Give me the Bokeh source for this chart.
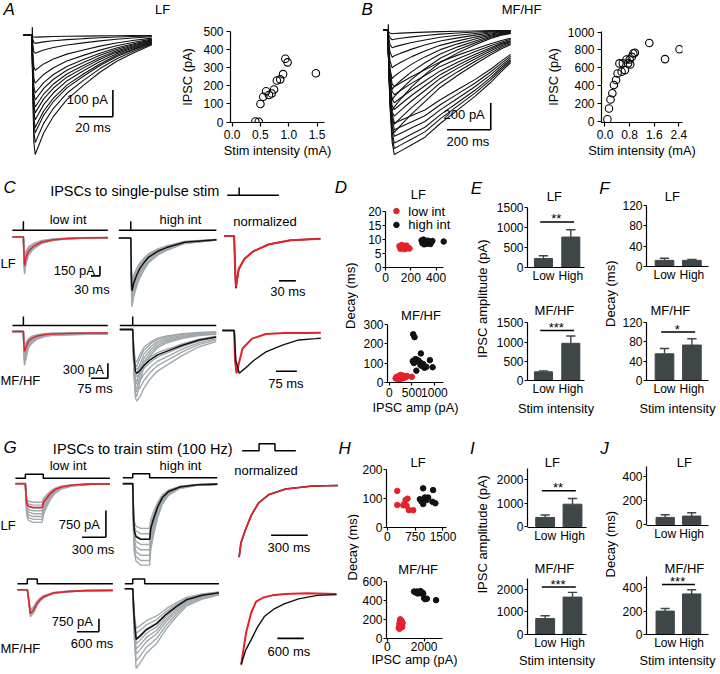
import numpy as np
from bokeh.plotting import figure
from bokeh.layouts import row, column
from bokeh.models import Range1d, FixedTicker, PrintfTickFormatter
from bokeh.core.properties import value
from bokeh.embed import file_html
from bokeh.resources import INLINE

FONT = "Liberation Sans"
RED = "#e4222a"
GRAY = "#a0a9ae"
BLK = "#111111"
BARC = "#3e4649"

# ====================== DATA ======================
# ---- A (LF): IPSC vs stimulus intensity ----
a_stim_ma = [0.41, 0.47, 0.50, 0.55, 0.60, 0.65, 0.70, 0.74, 0.79, 0.85, 0.90, 0.94, 0.98, 1.48]
a_ipsc_pa = [3, 2, 100, 140, 170, 150, 158, 180, 230, 236, 265, 350, 330, 270]
a_trace_amp_pa = [444, 400, 363, 344, 315, 289, 267, 241, 215, 178, 130, 67, 30, 7]
a_trace_t_ms = [0, 5.0, 5.6, 6.2, 7.0, 12, 17.8, 25.7, 35.5, 45.3, 55, 64.7, 76]
a_trace_norm = [0, 0, -0.5, -0.9, -1.0, -0.82, -0.68, -0.54, -0.42, -0.31, -0.22, -0.15, -0.08]
a_scale = (20, 100)          # ms, pA

# ---- B (MF/HF) ----
b_stim_ma = [0.08, 0.13, 0.18, 0.24, 0.29, 0.36, 0.41, 0.47, 0.54, 0.58, 0.65, 0.70,
             0.75, 0.80, 0.82, 0.87, 0.92, 0.97, 1.44, 1.95, 2.42]
b_ipsc_pa = [25, 145, 245, 315, 408, 463, 537, 649, 556, 649, 574, 693,
             649, 693, 638, 722, 760, 768, 878, 697, 808]
b_trace_t_ms = [0, 20, 23, 30, 40, 50, 80, 130, 190, 260, 340, 420, 490, 540, 582]
b_trace_amp_slow_pa = [926, 880, 840, 790, 740, 690]
b_trace_slow = [0, 0, -0.2, -0.6, -0.9, -1, -0.97, -0.92, -0.86, -0.75, -0.64, -0.53, -0.42, -0.33, -0.26]
b_trace_amp_med_pa = [760, 700, 640, 590, 540, 480, 420]
b_trace_med = [0, 0, -0.25, -0.7, -0.95, -1, -0.93, -0.82, -0.7, -0.56, -0.44, -0.33, -0.24, -0.18, -0.14]
b_trace_amp_fast_pa = [600, 520, 440, 360, 280, 200, 130, 70, 25]
b_trace_fast = [0, 0, -0.3, -0.8, -1, -0.95, -0.85, -0.7, -0.55, -0.4, -0.28, -0.18, -0.1, -0.06, -0.04]
b_scale = (200, 200)

# ---- C: single-pulse IPSCs (times relative to stimulus) ----
c_lf_stim_ms = (36.7, 40.0)
c_lf_lo_t = [0, 2, 4, 9, 18, 34, 62, 100, 150, 200, 283]
c_lf_lo_v = [0, -0.6, -1, -0.7, -0.48, -0.32, -0.17, -0.09, -0.05, -0.03, -0.02]
c_lf_hi_t = [0, 2, 4, 10, 20, 30, 45, 60, 90, 120, 180, 287]
c_lf_hi_v = [0, -0.7, -1, -0.85, -0.7, -0.58, -0.46, -0.36, -0.25, -0.18, -0.08, -0.03]
c_lf_lo_mean_pa = 435
c_lf_lo_gray_pa = [300, 340, 380, 420, 460, 500, 540, 555]
c_lf_hi_mean_pa = 795
c_lf_hi_gray_pa = [650, 700, 760, 820, 880, 940, 1000, 1035]
c_lf_scale = (30, 150)
c_lfn_stim_ms = 17.6
c_lfn_t = [0, 1.5, 3, 8, 18, 34, 62, 100, 153]
c_lfn_low = [0, -0.6, -1, -0.65, -0.45, -0.3, -0.16, -0.08, -0.05]
c_lfn_high = [0, -0.6, -1.03, -0.66, -0.45, -0.3, -0.16, -0.08, -0.05]

c_mf_stim_ms = (48.5, 57.0)
c_mf_lo_t = [0, 2, 5, 10, 22, 35, 62, 90, 120, 200, 300, 374]
c_mf_lo_v = [0, -0.6, -1, -0.85, -0.5, -0.36, -0.22, -0.16, -0.12, -0.1, -0.08, -0.08]
c_mf_hi_t = [0, 5, 12, 18, 30, 50, 80, 110, 150, 220, 295, 370]
c_mf_hi_v = [0, -0.6, -0.95, -1, -0.95, -0.82, -0.68, -0.58, -0.5, -0.36, -0.24, -0.17]
c_mf_hi_fast_v = [0, -0.6, -0.95, -1, -0.8, -0.55, -0.38, -0.27, -0.2, -0.13, -0.09, -0.07]
c_mf_lo_mean_pa = 400
c_mf_lo_gray_pa = [280, 340, 400, 460, 520, 580, 640, 680]
c_mf_hi_mean_pa = 880
c_mf_hi_gray_pa = [800, 950, 1100, 1250, 1440]
c_mf_hi_gray_fast_pa = [650, 750, 900, 1050, 1200, 1350]
c_mf_scale = (75, 300)
c_mfn_stim_ms = 42.9
c_mfn_low_t = [0, 3, 8, 30, 64, 114, 180, 250, 311]
c_mfn_low_v = [0, -0.7, -1, -0.42, -0.19, -0.08, -0.06, -0.06, -0.05]
c_mfn_high_t = [0, 6, 18, 40, 70, 114, 173, 232, 292, 311]
c_mfn_high_v = [0, -0.7, -1, -0.88, -0.7, -0.5, -0.34, -0.22, -0.19, -0.18]

# ---- D: decay vs amplitude (single pulse) ----
d_lf_low_amp = [110, 118, 125, 130, 138, 145, 150, 158, 165, 172, 180, 190]
d_lf_low_decay = [7.6, 6.6, 7.2, 8.0, 6.9, 7.4, 6.5, 7.1, 7.8, 6.8, 7.0, 6.7]
d_lf_high_amp = [285, 292, 300, 305, 312, 320, 328, 335, 345, 355, 370, 460]
d_lf_high_decay = [9.6, 8.6, 9.9, 8.2, 9.3, 9.0, 8.4, 9.5, 8.8, 8.3, 9.4, 9.2]
d_mf_low_amp = [140, 160, 180, 200, 215, 230, 245, 260, 275, 290, 305, 320, 335, 350, 370, 390, 210, 250, 300, 500]
d_mf_low_decay = [20, 28, 18, 25, 32, 22, 30, 18, 26, 35, 21, 28, 24, 30, 27, 33, 15, 38, 31, 28]
d_mf_high_amp = [530, 560, 520, 545, 575, 600, 610, 650, 700, 700, 720, 750, 780, 820, 900, 960, 560, 690]
d_mf_high_decay = [250, 235, 110, 100, 120, 60, 118, 112, 150, 100, 85, 95, 75, 80, 115, 78, 105, 90]

# ---- E/F: single-pulse summary (mean, sem) ----
groups = ["Low", "High"]
e_lf_mean, e_lf_sem = [221, 755], [70, 180]
e_mf_mean, e_mf_sem = [220, 967], [25, 193]
f_lf_mean, f_lf_sem = [12, 12], [4, 2]
f_mf_mean, f_mf_sem = [55, 73], [11, 13]
e_lf_sig, e_mf_sig, f_mf_sig = (1130, "**"), (1305, "***"), (100, "*")

# ---- G: train IPSCs (times relative to train onset) ----
g_lf_stim_ms, g_lf_train_ms = (125, 125), (225, 212)
g_lf_t = [0, 10, 20, 40, 100, 212, 227, 262, 312, 372, 452, 592, 812, 1062]
g_lf_v = [0, -0.6, -0.85, -0.95, -1, -1, -0.8, -0.63, -0.42, -0.25, -0.14, -0.06, -0.02, -0.01]
g_lf_lo_mean_pa = 667
g_lf_lo_gray_pa = [520, 600, 680, 760, 840, 920, 1000, 1083]
g_lf_hi_mean_pa = 1555
g_lf_hi_gray_pa = [1250, 1400, 1550, 1700, 1850, 2000, 2150, 2278]
g_lf_scale = (300, 750)
g_lfn_scale = 300

g_mf_stim_ms, g_mf_train_ms = (272, 218), (272, 327)
g_mf_lo_t = [0, 35, 82, 172, 264, 350, 444, 717, 1081, 1600, 2343]
g_mf_lo_v = [0, -0.4, -1, -0.86, -0.58, -0.42, -0.3, -0.14, -0.08, -0.04, -0.03]
g_mf_hi_t = [0, 40, 92, 191, 373, 654, 926, 1200, 1471, 1900, 2371]
g_mf_hi_v = [0, -0.6, -1, -0.94, -0.81, -0.69, -0.5, -0.35, -0.22, -0.13, -0.08]
g_mf_lo_mean_pa = 1387
g_mf_lo_gray_pa = [1150, 1250, 1350, 1450, 1578]
g_mf_hi_mean_pa = 2948
g_mf_hi_gray_pa = [2300, 2600, 2900, 3200, 3500, 3800, 4200, 4624]
g_mf_scale = (600, 750)
g_mfn_low_t = [0, 112, 225, 338, 500, 707, 1000, 1500, 2160]
g_mfn_low_v = [-1, -0.55, -0.27, -0.11, -0.05, -0.02, 0.0, 0.01, 0.0]
g_mfn_high_t = [0, 100, 225, 370, 525, 750, 975, 1300, 1725, 2160]
g_mfn_high_v = [-1, -0.8, -0.65, -0.47, -0.32, -0.21, -0.14, -0.07, -0.02, -0.01]
g_mfn_scale = 600

# ---- H: decay vs amplitude (train) ----
h_lf_low_amp = [268, 268, 491, 545, 456, 518, 581, 697, 429]
h_lf_low_decay = [127, 78, 95, 100, 81, 75, 60, 60, 77]
h_lf_high_amp = [965, 876, 965, 1010, 1055, 1100, 1233, 1215, 1295, 920]
h_lf_high_decay = [136, 98, 81, 104, 95, 104, 130, 89, 84, 90]
h_mf_low_amp = [620, 650, 680, 700, 720, 750, 780, 800, 830, 660, 700, 740, 770, 690, 720, 810]
h_mf_low_decay = [110, 150, 180, 120, 165, 140, 175, 130, 160, 100, 200, 115, 185, 135, 155, 120]
h_mf_high_amp = [1450, 1550, 1600, 1650, 1700, 1750, 1800, 1850, 1900, 1950, 2000, 2050, 2150, 2650]
h_mf_high_decay = [490, 480, 490, 470, 485, 475, 495, 470, 480, 470, 420, 410, 415, 400]

# ---- I/J: train summary ----
i_lf_mean, i_lf_sem = [390, 950], [100, 240]
i_mf_mean, i_mf_sem = [705, 1660], [125, 210]
j_lf_mean, j_lf_sem = [61, 72], [22, 28]
j_mf_mean, j_mf_sem = [200, 347], [22, 36]
i_lf_sig, i_mf_sig, j_mf_sig = (1513, "**"), (2110, "***"), (428, "***")

# ====================== LAYOUT HELPERS ======================
FX, FY = 716 / 720, 670 / 674


def rx(v):
    return int(round(v * FX))


def ry(v):
    return int(round(v * FY))


class Panel:
    def __init__(self, box, frame=None, xmap=(0.0, 1.0), ymap=(0.0, 1.0), axes=False):
        x0, x1, y0, y1 = box
        fx0, fx1, fy0, fy1 = frame if frame else box
        self.sxa, self.kx = xmap
        self.sya, self.ky = ymap
        xs = (rx(fx0) / FX - self.sxa) / self.kx
        xe = (rx(fx1) / FX - self.sxa) / self.kx
        ys = (self.sya - ry(fy1) / FY) / self.ky
        ye = (self.sya - ry(fy0) / FY) / self.ky
        if axes:
            # keep the zero tick inside the range despite pixel rounding
            if 0 < xs < 0.04 * (xe - xs):
                xs = -1e-4 * (xe - xs)
            if 0 < ys < 0.04 * (ye - ys):
                ys = -1e-4 * (ye - ys)
        kw = {} if axes else dict(x_axis_type=None, y_axis_type=None)
        p = figure(width=rx(x1) - rx(x0), height=ry(y1) - ry(y0),
                   x_range=Range1d(xs, xe), y_range=Range1d(ys, ye),
                   output_backend="svg", toolbar_location=None, title=None,
                   min_border_left=rx(fx0) - rx(x0), min_border_right=rx(x1) - rx(fx1),
                   min_border_top=ry(fy0) - ry(y0), min_border_bottom=ry(y1) - ry(fy1), **kw)
        if "frame_align" in p.properties():
            p.frame_align = False
        p.outline_line_color = None
        p.background_fill_color = "white"
        p.border_fill_color = "white"
        if axes:
            p.xgrid.visible = False
            p.ygrid.visible = False
        self.p = p

    def X(self, sx):
        return (sx - self.sxa) / self.kx

    def Y(self, sy):
        return (self.sya - sy) / self.ky

    def text(self, sx, sy, s, size=13, align="center", angle=0.0, style="normal", baseline="middle"):
        self.p.text(x=[self.X(sx)], y=[self.Y(sy)], text=[s], text_font=value(FONT),
                    text_font_size=f"{size}px", text_align=align, text_baseline=baseline,
                    angle=angle, text_font_style=style, text_color="black")

    def sline(self, sxs, sys, width=1.5):
        self.p.line([self.X(v) for v in sxs], [self.Y(v) for v in sys], line_width=width, line_color="black")


def trace(P, t_stim, st, sv, amp, color, lw):
    xs = [0.0] + [t_stim + t for t in st]
    ys = [0.0] + [amp * v for v in sv]
    P.p.line(xs, ys, line_color=color, line_width=lw)


def stim(P, t_stim, t_end, sy_base, sy_top, train=None):
    yb, yt = P.Y(sy_base), P.Y(sy_top)
    if train is None:
        P.p.line([0, t_end], [yb, yb], line_color="black", line_width=1.5)
        P.p.line([t_stim, t_stim], [yb, yt], line_color="black", line_width=1.5)
    else:
        P.p.line([0, t_stim, t_stim, t_stim + train, t_stim + train, t_end],
                 [yb, yb, yt, yt, yb, yb], line_color="black", line_width=1.5)


def scalebar(P, sx, sy, dt=None, di=None):
    tc, ic = P.X(sx), P.Y(sy)
    if dt:
        P.p.line([tc - dt, tc], [ic, ic], line_color="black", line_width=1.6)
    if di:
        P.p.line([tc, tc], [ic, ic + di], line_color="black", line_width=1.6)


def axis_style(P, xticks, yticks, ybounds=None, xbounds=None, xfmt=None, xover=None, xlabel=None, ylabel=None,
               xtick_out=3, ytick_out=3, xstand=1, ystand=1, xlstand=0, ylstand=4, fs="12px"):
    p = P.p
    for ax in p.axis:
        ax.axis_line_color = "black"
        ax.axis_line_width = 1.2
        ax.major_tick_line_color = "black"
        ax.major_tick_line_width = 1.2
        ax.major_tick_in = 0
        ax.minor_tick_line_color = None
        ax.major_label_text_font = FONT
        ax.major_label_text_font_size = fs
        ax.major_label_text_color = "black"
        ax.axis_label_text_font = FONT
        ax.axis_label_text_font_size = "12.8px"
        ax.axis_label_text_font_style = "normal"
        ax.axis_label_text_color = "black"
    xa, ya = p.xaxis[0], p.yaxis[0]
    xa.ticker = FixedTicker(ticks=xticks)
    ya.ticker = FixedTicker(ticks=yticks)
    xa.major_tick_out = xtick_out
    ya.major_tick_out = ytick_out
    if xtick_out == 0:
        xa.major_tick_line_color = None
    xa.major_label_standoff = xstand
    ya.major_label_standoff = ystand
    if ybounds:
        ya.bounds = ybounds
    if xbounds:
        xa.bounds = xbounds
    if xfmt:
        xa.formatter = PrintfTickFormatter(format=xfmt)
    if xover:
        xa.major_label_overrides = xover
    if xlabel:
        xa.axis_label = xlabel
        xa.axis_label_standoff = xlstand
    if ylabel:
        ya.axis_label = ylabel
        ya.axis_label_standoff = ylstand


def bars(P, means, sems, bw, yticks, ybounds, sig=None):
    xs = list(range(len(means)))
    P.p.vbar(x=xs, top=means, width=bw, bottom=0, fill_color=BARC, line_color=BARC)
    tops = [m + s for m, s in zip(means, sems)]
    P.p.segment(x0=xs, y0=means, x1=xs, y1=tops, line_color=BARC, line_width=1.4)
    cw = 0.17
    P.p.segment(x0=[x - cw for x in xs], y0=tops, x1=[x + cw for x in xs], y1=tops,
                line_color=BARC, line_width=1.4)
    if sig:
        lvl, stars = sig
        P.p.line([-0.12, 1.12], [lvl, lvl], line_color="black", line_width=1.5)
        P.p.text(x=[0.47], y=[lvl + 3.0 / P.ky], text=[stars], text_font=value(FONT),
                 text_font_size="13px", text_align="center", text_baseline="alphabetic",
                 text_color="black")
    axis_style(P, [0, 1], yticks, ybounds=ybounds, xtick_out=0, xstand=1,
               xover={i: g for i, g in enumerate(groups)}, fs="12px")


def dots(P, xs, ys, color):
    P.p.scatter(xs, ys, marker="circle", size=5.5, fill_color=color, line_color=color)


# ====================== ROW 1 ======================
A_tr = Panel((0, 178, 0, 168), xmap=(23, 1.7), ymap=(35, 0.27))
for amp in a_trace_amp_pa:
    A_tr.p.line(a_trace_t_ms, [amp * v for v in a_trace_norm], line_color=BLK, line_width=1.1)
A_tr.sline([32, 32], [27, 44], width=1.2)
A_tr.text(3, 9, "A", size=17, align="left", style="italic")
A_tr.text(163, 9, "LF")
scalebar(A_tr, 113, 117, dt=a_scale[0], di=a_scale[1])
A_tr.text(108, 100, f"{a_scale[1]} pA", align="right")
A_tr.text(93, 128, f"{a_scale[0]} ms")

A_sc = Panel((178, 360, 0, 168), frame=(228, 326, 31, 123), xmap=(230, 58.7), ymap=(122.3, 0.182), axes=True)
A_sc.p.scatter(a_stim_ma, a_ipsc_pa, marker="circle", size=7.5, fill_color=None, line_color="black", line_width=1.1)
axis_style(A_sc, [0, 0.5, 1.0, 1.5], [0, 100, 200, 300, 400, 500], xfmt="%.1f",
           xlabel="Stim intensity (mA)", ylabel="IPSC (pA)", xtick_out=4, ytick_out=4,
           xstand=3, ystand=3, xlstand=1, ylstand=5)

B_tr = Panel((360, 545, 0, 168), xmap=(385, 0.22), ymap=(30, 0.135))
for amps, shape in ((b_trace_amp_fast_pa, b_trace_fast), (b_trace_amp_med_pa, b_trace_med),
                    (b_trace_amp_slow_pa, b_trace_slow)):
    for amp in amps:
        B_tr.p.line(b_trace_t_ms, [amp * v for v in shape], line_color=BLK, line_width=1.1)
B_tr.sline([390, 390], [24, 40], width=1.2)
B_tr.text(363, 9, "B", size=17, align="left", style="italic")
B_tr.text(524, 9, "MF/HF")
scalebar(B_tr, 493, 130, dt=b_scale[0], di=b_scale[1])
B_tr.text(487, 115, f"{b_scale[1]} pA", align="right")
B_tr.text(470, 142, f"{b_scale[0]} ms")

B_sc = Panel((545, 720, 0, 168), frame=(600, 686, 31, 123), xmap=(604, 32.5), ymap=(121.7, 0.09), axes=True)
B_sc.p.scatter(b_stim_ma, b_ipsc_pa, marker="circle", size=7.5, fill_color=None, line_color="black", line_width=1.1)
axis_style(B_sc, [0, 0.8, 1.6, 2.4], [0, 200, 400, 600, 800, 1000], xfmt="%.1f",
           xlabel="Stim intensity (mA)", ylabel="IPSC (pA)", xtick_out=4, ytick_out=4,
           xstand=3, ystand=3, xlstand=1, ylstand=4)

row1 = row(A_tr.p, A_sc.p, B_tr.p, B_sc.p)

# ====================== ROW 2 ======================
Ct = Panel((0, 332, 168, 210))
Ct.text(3, 188, "C", size=17, align="left", style="italic")
Ct.text(135, 192, "IPSCs to single-pulse stim", size=14.5)
Ct.sline([228, 280], [196, 196])
Ct.sline([240, 240], [196, 188])

C1 = Panel((0, 116, 210, 310), xmap=(12, 0.3), ymap=(238, 0.0667))
for a in c_lf_lo_gray_pa:
    trace(C1, c_lf_stim_ms[0], c_lf_lo_t, c_lf_lo_v, a, GRAY, 1.4)
trace(C1, c_lf_stim_ms[0], c_lf_lo_t, c_lf_lo_v, c_lf_lo_mean_pa, RED, 1.5)
stim(C1, c_lf_stim_ms[0], c_lf_stim_ms[0] + c_lf_lo_t[-1], 231, 222)
C1.text(68, 220, "low int")
C1.text(0, 265, "LF", align="left")
scalebar(C1, 100, 277, dt=c_lf_scale[0], di=c_lf_scale[1])
C1.text(95, 272, f"{c_lf_scale[1]} pA", align="right")
C1.text(92, 291, f"{c_lf_scale[0]} ms")

C2 = Panel((116, 220, 210, 310), xmap=(119, 0.3), ymap=(239, 0.0667))
for a in c_lf_hi_gray_pa:
    trace(C2, c_lf_stim_ms[1], c_lf_hi_t, c_lf_hi_v, a, GRAY, 1.4)
trace(C2, c_lf_stim_ms[1], c_lf_hi_t, c_lf_hi_v, c_lf_hi_mean_pa, BLK, 1.5)
stim(C2, c_lf_stim_ms[1], c_lf_stim_ms[1] + c_lf_hi_t[-1], 231, 222)
C2.text(181, 220, "high int")

C3 = Panel((220, 332, 210, 310), xmap=(225, 0.567), ymap=(237, 51))
trace(C3, c_lfn_stim_ms, c_lfn_t, c_lfn_high, 1.0, BLK, 1.5)
trace(C3, c_lfn_stim_ms, c_lfn_t, c_lfn_low, 1.0, RED, 2.0)
C3.text(266, 222, "normalized")
scalebar(C3, 297, 282, dt=c_lf_scale[0])
C3.text(289, 293, f"{c_lf_scale[0]} ms")

C4 = Panel((0, 116, 310, 420), xmap=(12, 0.227), ymap=(333, 0.05))
for a in c_mf_lo_gray_pa:
    trace(C4, c_mf_stim_ms[0], c_mf_lo_t, c_mf_lo_v, a, GRAY, 1.4)
trace(C4, c_mf_stim_ms[0], c_mf_lo_t, c_mf_lo_v, c_mf_lo_mean_pa, RED, 1.5)
stim(C4, c_mf_stim_ms[0], c_mf_stim_ms[0] + c_mf_lo_t[-1], 327, 318)
C4.text(0, 382, "MF/HF", align="left")
scalebar(C4, 108, 380, dt=c_mf_scale[0], di=c_mf_scale[1])
C4.text(104, 371, f"{c_mf_scale[1]} pA", align="right")
C4.text(95, 390, f"{c_mf_scale[0]} ms")

C5 = Panel((116, 220, 310, 420), xmap=(120, 0.227), ymap=(331, 0.05))
for a in c_mf_hi_gray_fast_pa:
    trace(C5, c_mf_stim_ms[1], c_mf_hi_t, c_mf_hi_fast_v, a, GRAY, 1.4)
for a in c_mf_hi_gray_pa:
    trace(C5, c_mf_stim_ms[1], c_mf_hi_t, c_mf_hi_v, a, GRAY, 1.4)
trace(C5, c_mf_stim_ms[1], c_mf_hi_t, c_mf_hi_v, c_mf_hi_mean_pa, BLK, 1.5)
stim(C5, c_mf_stim_ms[1], c_mf_stim_ms[1] + c_mf_hi_t[-1], 327, 318)

C6 = Panel((220, 332, 310, 420), xmap=(223, 0.28), ymap=(332, 43))
trace(C6, c_mfn_stim_ms, c_mfn_low_t, c_mfn_low_v, 1.0, RED, 2.0)
trace(C6, c_mfn_stim_ms, c_mfn_high_t, c_mfn_high_v, 1.0, BLK, 1.4)
scalebar(C6, 298, 373, dt=c_mf_scale[0])
C6.text(287, 385, f"{c_mf_scale[0]} ms")

Cblock = column(Ct.p, row(C1.p, C2.p, C3.p), row(C4.p, C5.p, C6.p))

Dl = Panel((332, 362, 168, 420))
Dl.text(336, 188, "D", size=17, align="left", style="italic")
Dl.text(352, 297, "Decay (ms)", angle=np.pi / 2)

D1 = Panel((362, 468, 168, 296), frame=(387, 468, 168, 269), xmap=(387, 0.1275), ymap=(269, 2.85), axes=True)
dots(D1, d_lf_low_amp, d_lf_low_decay, RED)
dots(D1, d_lf_high_amp, d_lf_high_decay, BLK)
D1.text(420, 195, "LF")
D1.p.scatter([D1.X(398)], [D1.Y(212)], marker="circle", size=5.5, color=RED)
D1.p.scatter([D1.X(398)], [D1.Y(226)], marker="circle", size=5.5, color=BLK)
D1.text(410, 212, "low int", align="left")
D1.text(410, 226, "high int", align="left")
axis_style(D1, [0, 200, 400], [0, 5, 10, 15, 20], ybounds=(0, 20), xbounds=(D1.X(387), D1.X(445)), xstand=2)

D2 = Panel((362, 468, 296, 420), frame=(387, 445, 296, 384), xmap=(389, 0.047), ymap=(384, 0.193), axes=True)
dots(D2, d_mf_low_amp, d_mf_low_decay, RED)
dots(D2, d_mf_high_amp, d_mf_high_decay, BLK)
D2.text(422, 317, "MF/HF")
axis_style(D2, [0, 500, 1000], [0, 100, 200, 300], ybounds=(0, 300),
           xlabel="IPSC amp (pA)", xstand=2, xlstand=0)

El = Panel((468, 494, 168, 420))
El.text(473, 189, "E", size=17, align="left", style="italic")
El.text(485, 300, "IPSC amplitude (pA)", angle=np.pi / 2)

E1 = Panel((494, 598, 168, 296), frame=(530, 587, 168, 269), xmap=(546, 27.5), ymap=(269, 0.0407), axes=True)
bars(E1, e_lf_mean, e_lf_sem, 0.66, [0, 500, 1000, 1500], (0, 1500), e_lf_sig)
E1.text(557, 197, "LF")

E2 = Panel((494, 598, 296, 420), frame=(530, 587, 296, 384), xmap=(546, 27.5), ymap=(384, 0.0393), axes=True)
bars(E2, e_mf_mean, e_mf_sem, 0.66, [0, 500, 1000, 1500], (0, 1500), e_mf_sig)
E2.p.xaxis[0].axis_label = "Stim intensity"
E2.p.xaxis[0].axis_label_standoff = 2
E2.text(557, 312, "MF/HF")

Fl = Panel((598, 622, 168, 420))
Fl.text(602, 189, "F", size=17, align="left", style="italic")
Fl.text(613, 295, "Decay (ms)", angle=np.pi / 2)

F1 = Panel((622, 720, 168, 296), frame=(649, 712, 168, 268), xmap=(667, 28), ymap=(268, 0.517), axes=True)
bars(F1, f_lf_mean, f_lf_sem, 0.68, [0, 40, 80, 120], (0, 120))
F1.text(675, 197, "LF")

F2 = Panel((622, 720, 296, 420), frame=(649, 712, 296, 384), xmap=(667, 28), ymap=(384.3, 0.5), axes=True)
bars(F2, f_mf_mean, f_mf_sem, 0.68, [0, 40, 80, 120], (0, 120), f_mf_sig)
F2.p.xaxis[0].axis_label = "Stim intensity"
F2.p.xaxis[0].axis_label_standoff = 2
F2.text(673, 312, "MF/HF")

row2 = row(Cblock, Dl.p, column(D1.p, D2.p), El.p, column(E1.p, E2.p), Fl.p, column(F1.p, F2.p))

# ====================== ROW 3 ======================
Gt = Panel((0, 340, 420, 460))
Gt.text(3, 450, "G", size=17, align="left", style="italic")
Gt.text(143, 451, "IPSCs to train stim (100 Hz)", size=14.5)
Gt.sline([243, 260, 260, 276, 276, 297], [453, 453, 446, 446, 453, 453])

G1 = Panel((0, 116, 460, 570), xmap=(15, 0.08), ymap=(486, 0.036))
for a in g_lf_lo_gray_pa:
    trace(G1, g_lf_stim_ms[0], g_lf_t, g_lf_v, a, GRAY, 1.4)
trace(G1, g_lf_stim_ms[0], g_lf_t, g_lf_v, g_lf_lo_mean_pa, RED, 1.6)
stim(G1, g_lf_stim_ms[0], g_lf_stim_ms[0] + g_lf_t[-1], 480.7, 476.7, train=g_lf_train_ms[0])
G1.text(68, 468, "low int")
G1.text(0, 528, "LF", align="left")
scalebar(G1, 106, 540, dt=g_lf_scale[0], di=g_lf_scale[1])
G1.text(100, 527, f"{g_lf_scale[1]} pA", align="right")
G1.text(93, 552, f"{g_lf_scale[0]} ms")

G2 = Panel((116, 220, 460, 570), xmap=(123, 0.08), ymap=(486, 0.036))
for a in g_lf_hi_gray_pa:
    trace(G2, g_lf_stim_ms[1], g_lf_t, g_lf_v, a, GRAY, 1.4)
trace(G2, g_lf_stim_ms[1], g_lf_t, g_lf_v, g_lf_hi_mean_pa, BLK, 1.6)
stim(G2, g_lf_stim_ms[1], g_lf_stim_ms[1] + g_lf_t[-1], 480, 476, train=g_lf_train_ms[1])
G2.text(181, 468, "high int")

G3 = Panel((220, 340, 460, 570), xmap=(213.9, 0.123), ymap=(487, 73))
dec_t = [t for t in g_lf_t if t >= 212]
dec_v = [v for t, v in zip(g_lf_t, g_lf_v) if t >= 212]
G3.p.line(dec_t, dec_v, line_color=BLK, line_width=1.6)
G3.p.line(dec_t, dec_v, line_color=RED, line_width=1.6)
G3.text(267, 473, "normalized")
scalebar(G3, 309, 538, dt=g_lfn_scale)
G3.text(290, 550, f"{g_lfn_scale} ms")

G4 = Panel((0, 116, 570, 674), xmap=(17, 0.0367), ymap=(592.7, 0.0173))
for a in g_mf_lo_gray_pa:
    trace(G4, g_mf_stim_ms[0], g_mf_lo_t, g_mf_lo_v, a, GRAY, 1.4)
trace(G4, g_mf_stim_ms[0], g_mf_lo_t, g_mf_lo_v, g_mf_lo_mean_pa, RED, 1.6)
stim(G4, g_mf_stim_ms[0], g_mf_stim_ms[0] + g_mf_lo_t[-1], 586.7, 582, train=g_mf_train_ms[0])
G4.text(0, 652, "MF/HF", align="left")
scalebar(G4, 99, 635, dt=g_mf_scale[0], di=g_mf_scale[1])
G4.text(93, 625, f"{g_mf_scale[1]} pA", align="right")
G4.text(92, 647, f"{g_mf_scale[0]} ms")

G5 = Panel((116, 220, 570, 674), xmap=(125, 0.0367), ymap=(591.7, 0.0173))
for a in g_mf_hi_gray_pa:
    trace(G5, g_mf_stim_ms[1], g_mf_hi_t, g_mf_hi_v, a, GRAY, 1.4)
trace(G5, g_mf_stim_ms[1], g_mf_hi_t, g_mf_hi_v, g_mf_hi_mean_pa, BLK, 1.6)
stim(G5, g_mf_stim_ms[1], g_mf_stim_ms[1] + g_mf_hi_t[-1], 586.7, 582, train=g_mf_train_ms[1])

G6 = Panel((220, 340, 570, 674), xmap=(242, 0.0444), ymap=(597, 71))
G6.p.line(g_mfn_low_t, g_mfn_low_v, line_color=RED, line_width=2.0)
G6.p.line(g_mfn_high_t, g_mfn_high_v, line_color=BLK, line_width=1.4)
scalebar(G6, 305, 641.7, dt=g_mfn_scale)
G6.text(290, 655, f"{g_mfn_scale} ms")

Gblock = column(Gt.p, row(G1.p, G2.p, G3.p), row(G4.p, G5.p, G6.p))

Hl = Panel((340, 361, 420, 674))
Hl.text(340, 451, "H", size=17, align="left", style="italic")
Hl.text(354, 550, "Decay (ms)", angle=np.pi / 2)

H1 = Panel((361, 468, 420, 555), frame=(388, 448, 420, 530), xmap=(389, 0.0373), ymap=(530, 0.2887), axes=True)
dots(H1, h_lf_low_amp, h_lf_low_decay, RED)
dots(H1, h_lf_high_amp, h_lf_high_decay, BLK)
H1.text(420, 465, "LF")
axis_style(H1, [0, 750, 1500], [0, 100, 200], ybounds=(0, 200), xstand=1)

H2 = Panel((361, 468, 555, 674), frame=(388, 444, 555, 642), xmap=(389, 0.0185), ymap=(641.7, 0.0962), axes=True)
dots(H2, h_mf_low_amp, h_mf_low_decay, RED)
dots(H2, h_mf_high_amp, h_mf_high_decay, BLK)
H2.text(420, 572, "MF/HF")
axis_style(H2, [0, 2000], [0, 200, 400, 600], ybounds=(0, 600),
           xlabel="IPSC amp (pA)", xstand=0, xlstand=-2)

Il = Panel((468, 494, 420, 674))
Il.text(472, 451, "I", size=17, align="left", style="italic")
Il.text(485, 537, "IPSC amplitude (pA)", angle=np.pi / 2)

I1 = Panel((494, 598, 420, 555), frame=(530, 589, 420, 530), xmap=(547.7, 27.5), ymap=(529.3, 0.0238), axes=True)
bars(I1, i_lf_mean, i_lf_sem, 0.69, [0, 1000, 2000], (0, 2450), i_lf_sig)
I1.text(555, 465, "LF")

I2 = Panel((494, 598, 555, 674), frame=(530, 589, 555, 642), xmap=(547.7, 27.5), ymap=(641.7, 0.0237), axes=True)
bars(I2, i_mf_mean, i_mf_sem, 0.69, [0, 1000, 2000], (0, 2500), i_mf_sig)
I2.p.xaxis[0].axis_label = "Stim intensity"
I2.p.xaxis[0].axis_label_standoff = 0
I2.text(557, 572, "MF/HF")

Jl = Panel((598, 622, 420, 674))
Jl.text(603, 451, "J", size=17, align="left", style="italic")
Jl.text(613, 547, "Decay (ms)", angle=np.pi / 2)

J1 = Panel((622, 720, 420, 555), frame=(648, 712, 420, 528), xmap=(667, 27.5), ymap=(527.3, 0.12), axes=True)
bars(J1, j_lf_mean, j_lf_sem, 0.69, [0, 200, 400], (0, 490))
J1.text(687, 465, "LF")

J2 = Panel((622, 720, 555, 674), frame=(648, 712, 555, 640), xmap=(667, 27.5), ymap=(640, 0.1208), axes=True)
bars(J2, j_mf_mean, j_mf_sem, 0.69, [0, 200, 400], (0, 500), j_mf_sig)
J2.p.xaxis[0].axis_label = "Stim intensity"
J2.p.xaxis[0].axis_label_standoff = 0
J2.text(687, 572, "MF/HF")

row3 = row(Gblock, Hl.p, column(H1.p, H2.p), Il.p, column(I1.p, I2.p), Jl.p, column(J1.p, J2.p))

layout = column(row1, row2, row3)

with open("out.html", "w") as f:
    f.write(file_html(layout, INLINE))
